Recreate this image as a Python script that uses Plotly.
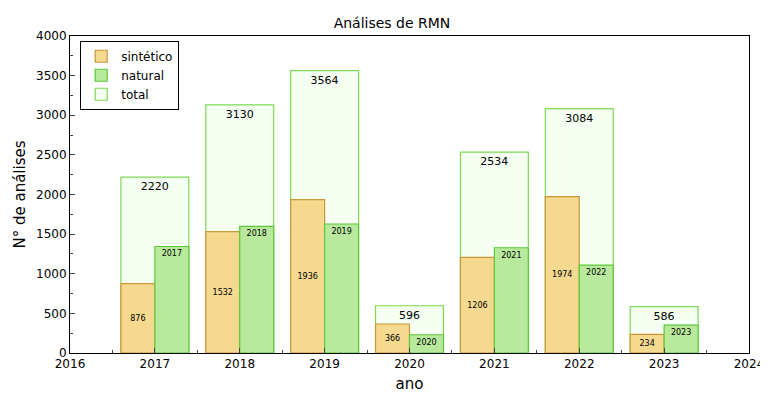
import plotly.graph_objects as go

anos = [2017, 2018, 2019, 2020, 2021, 2022, 2023]
sintetico = [876, 1532, 1936, 366, 1206, 1974, 234]
natural = [1344, 1598, 1628, 230, 1328, 1110, 352]
total = [2220, 3130, 3564, 596, 2534, 3084, 586]
rotulos_natural = ["2017", "2018", "2019", "2020", "2021", "2022", "2023"]

fig = go.Figure()
fig.add_trace(go.Bar(
    x=anos, y=total, name="total", width=0.8, offset=-0.4, legendrank=3,
    marker=dict(color="#f5fff2", line=dict(color="#7ed957", width=1.2)),
    text=[str(v) for v in total], textposition="inside", insidetextanchor="end",
    textfont=dict(size=11, color="black"), constraintext="none",
))
fig.add_trace(go.Bar(
    x=anos, y=sintetico, name="sintético", width=0.4, offset=-0.4, legendrank=1,
    marker=dict(color="#f5d98e", line=dict(color="#c9963a", width=1.2)),
    text=[str(v) for v in sintetico], textposition="inside", insidetextanchor="middle",
    textfont=dict(size=8, color="black"), constraintext="none",
))
fig.add_trace(go.Bar(
    x=anos, y=natural, name="natural", width=0.4, offset=0, legendrank=2,
    marker=dict(color="#b8e99c", line=dict(color="#5cc93a", width=1.2)),
    text=rotulos_natural, textposition="inside", insidetextanchor="end",
    textfont=dict(size=8, color="black"), constraintext="none",
))

fig.update_layout(
    barmode="overlay",
    width=768, height=401,
    paper_bgcolor="white", plot_bgcolor="white",
    font=dict(family="DejaVu Sans", size=12, color="black"),
    title=dict(text="Análises de RMN", x=0.5, y=0.975, xanchor="center", font=dict(size=14)),
    margin=dict(l=57, r=23, t=28, b=56),
    showlegend=True,
    legend=dict(x=0.015, y=0.985, xanchor="left", yanchor="top",
                bordercolor="black", borderwidth=1, bgcolor="white",
                font=dict(size=12), tracegroupgap=0, itemwidth=30),
)

fig.update_xaxes(range=[2016, 2024], dtick=1, ticks="inside", ticklen=5,
                 showline=True, linecolor="black", mirror=True, showgrid=False,
                 title=dict(text="ano", font=dict(size=15), standoff=8),
                 minor=dict(ticks="inside", ticklen=3, dtick=0.5))
fig.update_yaxes(range=[0, 4000], dtick=500, ticks="inside", ticklen=5,
                 showline=True, linecolor="black", mirror=True, showgrid=False,
                 title=dict(text="N° de análises", font=dict(size=15), standoff=6),
                 minor=dict(ticks="inside", ticklen=3, dtick=250))

fig.write_html("out.html")
